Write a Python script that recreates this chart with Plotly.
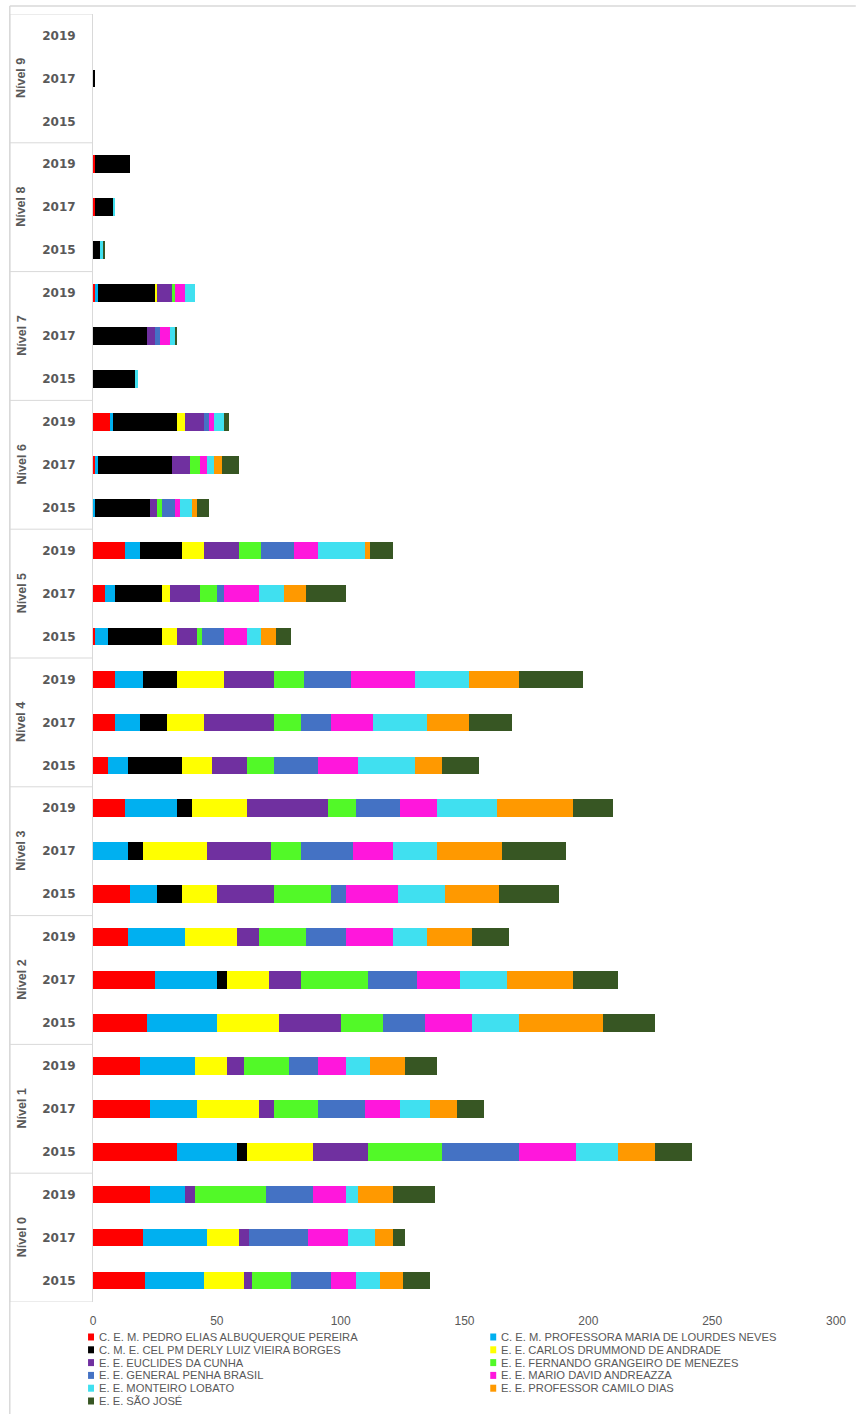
import plotly.graph_objects as go

# Category structure: level groups (bottom to top) and the years inside each group
levels = ["Nível 0", "Nível 1", "Nível 2", "Nível 3", "Nível 4",
          "Nível 5", "Nível 6", "Nível 7", "Nível 8", "Nível 9"]
years = ["2015", "2017", "2019"]

schools = [
    "C. E. M. PEDRO ELIAS ALBUQUERQUE PEREIRA",
    "C. E. M. PROFESSORA MARIA DE LOURDES NEVES",
    "C. M. E. CEL PM DERLY LUIZ VIEIRA BORGES",
    "E. E. CARLOS DRUMMOND DE ANDRADE",
    "E. E. EUCLIDES DA CUNHA",
    "E. E. FERNANDO GRANGEIRO DE MENEZES",
    "E. E. GENERAL PENHA BRASIL",
    "E. E. MARIO DAVID ANDREAZZA",
    "E. E. MONTEIRO LOBATO",
    "E. E. PROFESSOR CAMILO DIAS",
    "E. E. SÃO JOSÉ",
]
colors = ["#FF0000", "#00B0F0", "#000000", "#FFFF00", "#7030A0", "#52F928",
          "#4472C4", "#FF17DC", "#40E0F0", "#FF9900", "#375623"]

# Values per school, ordered Nível 0 (2015, 2017, 2019) ... Nível 9 (2015, 2017, 2019)
pedro = [21, 20, 23, 34, 23, 19, 22, 25, 14, 15, 0, 13, 6, 9, 9,
         1, 5, 13, 0, 1, 7, 0, 0, 1, 0, 1, 1, 0, 0, 0]
lourdes = [24, 26, 14, 24, 19, 22, 28, 25, 23, 11, 14, 21, 8, 10, 11,
           5, 4, 6, 1, 1, 1, 0, 0, 1, 0, 0, 0, 0, 0, 0]
derly = [0, 0, 0, 4, 0, 0, 0, 4, 0, 10, 6, 6, 22, 11, 14,
         22, 19, 17, 22, 30, 26, 17, 22, 23, 3, 7, 14, 0, 1, 0]
drummond = [16, 13, 0, 27, 25, 13, 25, 17, 21, 14, 26, 22, 12, 15, 19,
            6, 3, 9, 0, 0, 3, 0, 0, 1, 0, 0, 0, 0, 0, 0]
euclides = [3, 4, 4, 22, 6, 7, 25, 13, 9, 23, 26, 33, 14, 28, 20,
            8, 12, 14, 3, 7, 8, 0, 3, 6, 0, 0, 0, 0, 0, 0]
fernando = [16, 0, 29, 30, 18, 18, 17, 27, 19, 23, 12, 11, 11, 11, 12,
            2, 7, 9, 2, 4, 0, 0, 0, 1, 0, 0, 0, 0, 0, 0]
penha = [16, 24, 19, 31, 19, 12, 17, 20, 16, 6, 21, 18, 18, 12, 19,
         9, 3, 13, 5, 0, 2, 0, 2, 0, 0, 0, 0, 0, 0, 0]
andreazza = [10, 16, 13, 23, 14, 11, 19, 17, 19, 21, 16, 15, 16, 17, 26,
             9, 14, 10, 2, 3, 2, 0, 4, 4, 0, 0, 0, 0, 0, 0]
lobato = [10, 11, 5, 17, 12, 10, 19, 19, 14, 19, 18, 24, 23, 22, 22,
          6, 10, 19, 5, 3, 4, 1, 2, 4, 1, 1, 0, 0, 0, 0]
camilo = [9, 7, 14, 15, 11, 14, 34, 27, 18, 22, 26, 31, 11, 17, 20,
          6, 9, 2, 2, 3, 0, 0, 0, 0, 0, 0, 0, 0, 0, 0]
saojose = [11, 5, 17, 15, 11, 13, 21, 18, 15, 24, 26, 16, 15, 17, 26,
           6, 16, 9, 5, 7, 2, 0, 1, 0, 1, 0, 0, 0, 0, 0]

series = [pedro, lourdes, derly, drummond, euclides, fernando,
          penha, andreazza, lobato, camilo, saojose]

keys = [f"{lv} {yr}" for lv in levels for yr in years]
year_labels = [yr for lv in levels for yr in years]

W, H = 858, 1414
L, R, T, B = 93, 15, 14, 112
PW, PH = W - L - R, H - T - B
GRAY = "#595959"
LINE = "#D9D9D9"


def px_x(x):
    return (x - L) / PW


def px_y(y):
    return (H - B - y) / PH


fig = go.Figure()
for name, vals, col in zip(schools, series, colors):
    fig.add_trace(go.Bar(
        x=vals, y=keys, name=name, orientation="h",
        marker=dict(color=col, line=dict(width=0)),
        showlegend=False,
    ))

shapes = []
# group boxes on the category axis
for g in range(len(levels) + 1):
    shapes.append(dict(type="line", xref="paper", yref="y",
                       x0=px_x(9), x1=0, y0=-0.5 + 3 * g, y1=-0.5 + 3 * g,
                       line=dict(color=LINE, width=1)))
shapes.append(dict(type="line", xref="paper", yref="y",
                   x0=px_x(9), x1=px_x(9), y0=-0.5, y1=len(keys) - 0.5,
                   line=dict(color=LINE, width=1)))
# chart frame
shapes.append(dict(type="line", xref="paper", yref="paper",
                   x0=px_x(9), x1=px_x(W + 5), y0=px_y(6), y1=px_y(6),
                   line=dict(color=LINE, width=1.5)))
shapes.append(dict(type="line", xref="paper", yref="paper",
                   x0=px_x(9), x1=px_x(9), y0=px_y(6), y1=px_y(H + 5),
                   line=dict(color=LINE, width=1.5)))

annotations = []
# rotated group labels
for lv in levels:
    annotations.append(dict(
        text=f"<b>{lv}</b>", x=px_x(21), xref="paper", y=f"{lv} 2017", yref="y",
        showarrow=False, textangle=-90, xanchor="center", yanchor="middle",
        font=dict(family="Liberation Sans, Arial, sans-serif", size=12.5, color=GRAY),
    ))

# legend: two columns, row-major order
for i, (name, col) in enumerate(zip(schools, colors)):
    row, c = divmod(i, 2)
    yc = 1337 + 12.8 * row
    mx = 88 if c == 0 else 494
    shapes.append(dict(type="rect", xref="paper", yref="paper",
                       x0=px_x(mx), x1=px_x(mx + 6), y0=px_y(yc + 3.5), y1=px_y(yc - 3.5),
                       fillcolor=col, line=dict(width=0)))
    annotations.append(dict(
        text=name, x=px_x(mx + 9), xref="paper", y=px_y(yc), yref="paper",
        showarrow=False, xanchor="left", yanchor="middle",
        font=dict(family="Liberation Sans Narrow, Arial Narrow, sans-serif", size=11.2, color=GRAY),
    ))

fig.update_layout(
    width=W, height=H,
    margin=dict(l=L, r=R, t=T, b=B, pad=0),
    barmode="stack", bargap=0.59,
    plot_bgcolor="white", paper_bgcolor="white",
    shapes=shapes, annotations=annotations,
    xaxis=dict(range=[0, 300], dtick=50, tick0=0, showgrid=False, zeroline=False,
               showline=False, ticks="", ticklabelstandoff=10,
               tickfont=dict(family="Liberation Sans, Arial, sans-serif", size=12, color=GRAY)),
    yaxis=dict(type="category", categoryorder="array", categoryarray=keys,
               range=[-0.5, len(keys) - 0.5], tickmode="array",
               tickvals=keys, ticktext=year_labels, showgrid=False, zeroline=False,
               showline=True, linecolor=LINE, linewidth=1, ticks="",
               ticklabelstandoff=14,
               tickfont=dict(family="DejaVu Sans, sans-serif", size=12, color=GRAY,
                             weight="bold")),
)

fig.write_html("out.html")
